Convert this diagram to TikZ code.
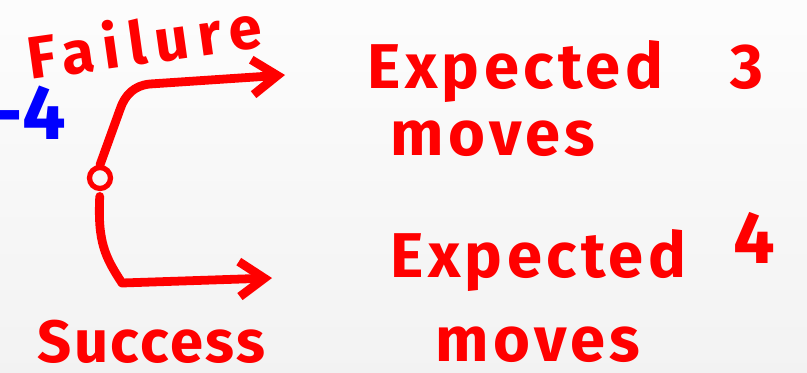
\documentclass[tikz,border=0pt]{standalone}
\usepackage{fontspec}
\setmainfont{Fira Sans}
\usepackage{tikz}
\usetikzlibrary{arrows.meta,positioning,calc}

\begin{document}
\begin{tikzpicture}[
    ink/.style={red, font=\bfseries\fontsize{36}{40}\selectfont\addfontfeatures{LetterSpace=7}, inner sep=0pt},
    stroke/.style={red, line width=5pt, line cap=round, line join=round},
    arr/.style={stroke, -{Straight Barb[length=5mm,width=7mm]}}
  ]
  % page and background
  \useasboundingbox (0,0) rectangle (16.14,7.44);
  \clip (0,0) rectangle (16.14,7.44);
  \shade[top color=gray!2, bottom color=gray!10] (0,0) rectangle (16.14,7.44);

  % labels
  \node[ink, font=\bfseries\fontsize{34}{38}\selectfont\addfontfeatures{LetterSpace=15}, rotate=8, anchor=base west] (fail) at (0.6,5.84) {Failure};
  \node[ink, blue, font=\bfseries\fontsize{44}{48}\selectfont, anchor=base east] (blueFour) at (1.32,4.66) {-4};
  \node[ink, anchor=base west] (expThree) at (7.34,5.68) {Expected\hspace{1.35cm}3};
  \node[ink, anchor=base west] (movesThree) at (7.8,4.34) {moves};
  \node[ink, anchor=base west] (expFour) at (7.8,1.9) {Expected\hspace{0.95cm}\raisebox{0.28cm}{\fontsize{42}{46}\selectfont 4}};
  \node[ink, anchor=base west] (movesFour) at (8.7,0.22) {moves};
  \node[ink, font=\bfseries\fontsize{34}{38}\selectfont\addfontfeatures{LetterSpace=4}, anchor=base west] (succ) at (0.75,0.2) {Success};

  % branch point
  \node[draw=red, line width=3pt, circle, minimum size=0.42cm, inner sep=0pt] (dot) at (2.0,3.88) {};
  \coordinate (failTip) at (5.7,5.94);
  \coordinate (succTip) at (5.44,1.88);

  % connectors
  \draw[arr] (dot.north) -- (2.4,5.25) to[out=72,in=185] (3.0,5.76) -- (failTip);
  \draw[arr, shorten <=3pt] (dot.south) .. controls (1.95,2.6) and (2.1,2.3) .. (2.44,1.78) -- (succTip);
\end{tikzpicture}
\end{document}
